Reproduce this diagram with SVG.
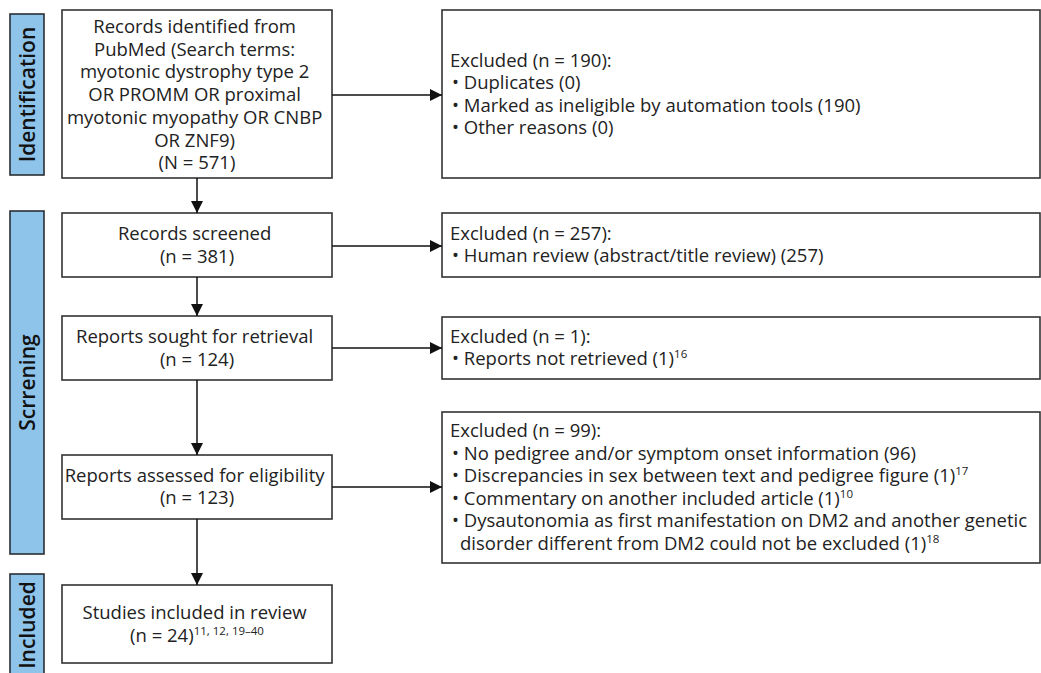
<svg xmlns="http://www.w3.org/2000/svg" width="1041" height="673" viewBox="0 0 1041 673">
<defs>
<style>
.bg{fill:#ffffff}
.bar{fill:#8ec3ea;stroke:#2b2f33;stroke-width:1.6}
.bartxt{font-family:"Open Sans","Noto Sans",sans-serif;font-size:21px;fill:#111;text-anchor:middle;font-weight:600}
.box{fill:#ffffff;stroke:#333;stroke-width:1.6}
.t{font-family:"Open Sans","Noto Sans",sans-serif;font-size:18.5px;fill:#222;text-anchor:middle}
.e{font-family:"Open Sans","Noto Sans",sans-serif;font-size:18.5px;fill:#222}
.sup{font-size:11.5px}
.conn line{stroke:#111;stroke-width:1.5;fill:none}
</style>
<marker id="ah" viewBox="0 0 10 10" refX="10" refY="5" markerWidth="12" markerHeight="12" markerUnits="userSpaceOnUse" orient="auto">
<path d="M0,0 L10,5 L0,10 Z" fill="#111"/>
</marker>
</defs>
<rect class="bg" x="0" y="0" width="1041" height="673"/>

<g id="phase-identification">
<rect class="bar" x="10" y="14" width="34" height="161"/>
<text class="bartxt" transform="translate(34.5,94.5) rotate(-90)">Identification</text>
</g>
<g id="phase-screening">
<rect class="bar" x="10" y="211" width="34" height="343"/>
<text class="bartxt" transform="translate(34.5,382.5) rotate(-90)">Scrrening</text>
</g>
<g id="phase-included">
<rect class="bar" x="10" y="574" width="34" height="110"/>
<text class="bartxt" transform="translate(34.5,625) rotate(-90)">Included</text>
</g>

<g id="identified">
<rect class="box" x="62" y="10" width="270" height="168"/>
<text class="t">
<tspan x="197" y="33">Records identified from</tspan>
<tspan x="197" y="55.7">PubMed (Search terms:</tspan>
<tspan x="197" y="78.4">myotonic dystrophy type 2</tspan>
<tspan x="197" y="101.1">OR PROMM OR proximal</tspan>
<tspan x="197" y="123.8">myotonic myopathy OR CNBP</tspan>
<tspan x="197" y="146.5">OR ZNF9)</tspan>
<tspan x="197" y="169.2">(N = 571)</tspan>
</text>
</g>

<g id="excluded-1">
<rect class="box" x="442" y="10" width="598" height="168"/>
<text class="e">
<tspan x="450" y="67">Excluded (n = 190):</tspan>
<tspan x="452" y="89.3">• Duplicates (0)</tspan>
<tspan x="452" y="111.6">• Marked as ineligible by automation tools (190)</tspan>
<tspan x="452" y="133.9">• Other reasons (0)</tspan>
</text>
</g>

<g id="screened">
<rect class="box" x="62" y="213" width="270" height="64"/>
<text class="t">
<tspan x="197" y="240">Records screened</tspan>
<tspan x="197" y="262.7">(n = 381)</tspan>
</text>
</g>

<g id="excluded-2">
<rect class="box" x="442" y="213" width="598" height="64"/>
<text class="e">
<tspan x="450" y="240">Excluded (n = 257):</tspan>
<tspan x="452" y="262.3">• Human review (abstract/title review) (257)</tspan>
</text>
</g>

<g id="sought">
<rect class="box" x="62" y="316" width="270" height="64"/>
<text class="t">
<tspan x="197" y="343">Reports sought for retrieval</tspan>
<tspan x="197" y="365.7">(n = 124)</tspan>
</text>
</g>

<g id="excluded-3">
<rect class="box" x="442" y="317" width="598" height="62"/>
<text class="e">
<tspan x="450" y="343">Excluded (n = 1):</tspan>
<tspan x="452" y="365.3">• Reports not retrieved (1)<tspan class="sup" dy="-7">16</tspan></tspan>
</text>
</g>

<g id="assessed">
<rect class="box" x="62" y="455" width="270" height="64"/>
<text class="t">
<tspan x="197" y="481.7">Reports assessed for eligibility</tspan>
<tspan x="197" y="504.4">(n = 123)</tspan>
</text>
</g>

<g id="excluded-4">
<rect class="box" x="442" y="412" width="598" height="151"/>
<text class="e">
<tspan x="450" y="437">Excluded (n = 99):</tspan>
<tspan x="452" y="459.5">• No pedigree and/or symptom onset information (96)</tspan>
<tspan x="452" y="482">• Discrepancies in sex between text and pedigree figure (1)<tspan class="sup" dy="-7">17</tspan></tspan>
<tspan x="452" y="504.5">• Commentary on another included article (1)<tspan class="sup" dy="-7">10</tspan></tspan>
<tspan x="452" y="527">• Dysautonomia as first manifestation on DM2 and another genetic</tspan>
<tspan x="460" y="549.5">disorder different from DM2 could not be excluded (1)<tspan class="sup" dy="-7">18</tspan></tspan>
</text>
</g>

<g id="included">
<rect class="box" x="62" y="585" width="270" height="78"/>
<text class="t">
<tspan x="197" y="619">Studies included in review</tspan>
<tspan x="197" y="641.7">(n = 24)<tspan class="sup" dy="-7">11, 12, 19–40</tspan></tspan>
</text>
</g>

<g id="connectors" class="conn">
<line x1="197" y1="178" x2="197" y2="213" marker-end="url(#ah)"/>
<line x1="197" y1="277" x2="197" y2="316" marker-end="url(#ah)"/>
<line x1="197" y1="380" x2="197" y2="455" marker-end="url(#ah)"/>
<line x1="197" y1="519" x2="197" y2="585" marker-end="url(#ah)"/>
<line x1="332" y1="95" x2="442" y2="95" marker-end="url(#ah)"/>
<line x1="332" y1="246" x2="442" y2="246" marker-end="url(#ah)"/>
<line x1="332" y1="348" x2="442" y2="348" marker-end="url(#ah)"/>
<line x1="332" y1="487" x2="442" y2="487" marker-end="url(#ah)"/>
</g>
</svg>
